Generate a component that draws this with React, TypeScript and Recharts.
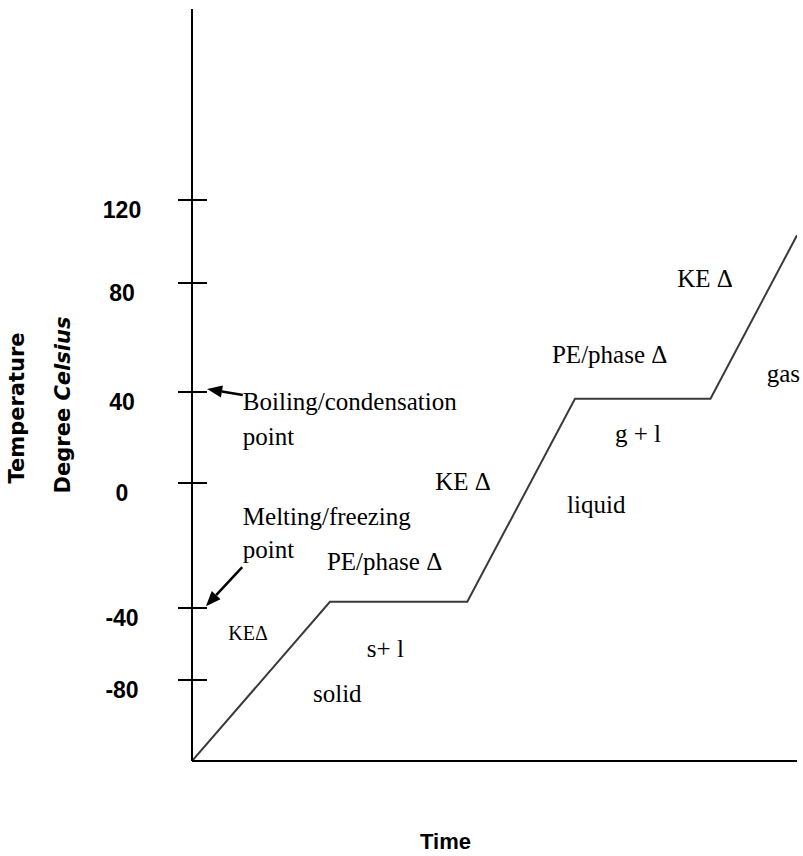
import React from 'react';
import { LineChart, Line, XAxis, YAxis, ReferenceDot, ReferenceLine, Label } from 'recharts';

// ---- data ----
const times = [0, 22.8, 45.5, 63.3, 85.7, 100];
const temps = [-120, -38, -38, 37, 37, 103];

const yTickValues = [120, 80, 40, 0, -40, -80];
const yTickLabels = ['120', '80', '40', '0', '-40', '-80'];

const noteTexts = [
  'Boiling/condensation', 'point', 'Melting/freezing', 'point', 'KE\u0394',
  'PE/phase \u0394', 's+ l', 'solid', 'KE \u0394', 'liquid', 'g + l',
  'PE/phase \u0394', 'KE \u0394', 'gas',
];
const noteTimes = [8.4, 8.4, 8.4, 8.4, 6.0, 22.3, 28.9, 20.0, 40.2, 62.0, 69.9, 59.5, 80.2, 95.0];
const noteTemps = [32.1, 16.7, -13.4, -24, -57.8, -27.8, -67.2, -90.9, -2.2, -9.6, 18.0, 50.6, 78.5, 43.7];

const arrowFromTimes = [8.4, 8.3];
const arrowFromTemps = [38.7, -26.9];
const arrowToTimes = [2.5, 2.3];
const arrowToTemps = [41.1, -39.4];

const yTitle1 = 'Temperature';
const yTitle2a = 'Degree ';
const yTitle2b = 'Celsius';
const xTitle = 'Time';

// ---- axis scale config (hand-drawn, unevenly spaced temperature axis) ----
const yScaleKnots = [-120, -80, -40, 0, 40, 80, 120, 160];
const yScaleGaps = [81, 72, 125, 91, 109, 83, 191];

function makePiecewiseScale(knots: number[], gaps: number[]): any {
  let dom: number[] = [knots[0], knots[knots.length - 1]];
  let ran: number[] = [0, 1];
  const cum: number[] = [0];
  for (let i = 0; i < gaps.length; i++) cum.push(cum[i] + gaps[i]);
  const total = cum[cum.length - 1];
  const frac = (v: number) => {
    const n = knots.length;
    if (v <= knots[0]) return ((v - knots[0]) / (knots[1] - knots[0])) * gaps[0] / total;
    for (let i = 1; i < n; i++) {
      if (v <= knots[i] || i === n - 1) {
        return (cum[i - 1] + ((v - knots[i - 1]) / (knots[i] - knots[i - 1])) * gaps[i - 1]) / total;
      }
    }
    return 1;
  };
  const scale: any = (v: number) => ran[0] + frac(v) * (ran[1] - ran[0]);
  scale.domain = (d?: number[]) => {
    if (d === undefined) return dom.slice();
    dom = d.slice();
    return scale;
  };
  scale.range = (r?: number[]) => {
    if (r === undefined) return ran.slice();
    ran = r.slice();
    return scale;
  };
  scale.copy = () => {
    const s = makePiecewiseScale(knots, gaps);
    s.domain(dom);
    s.range(ran);
    return s;
  };
  scale.ticks = () => knots.slice();
  scale.invert = (px: number) => {
    const f = (px - ran[0]) / (ran[1] - ran[0]) * total;
    for (let i = 1; i < cum.length; i++) {
      if (f <= cum[i] || i === cum.length - 1) {
        return knots[i - 1] + ((f - cum[i - 1]) / gaps[i - 1]) * (knots[i] - knots[i - 1]);
      }
    }
    return knots[knots.length - 1];
  };
  return scale;
}

const yScale = makePiecewiseScale(yScaleKnots, yScaleGaps);

const data = times.map((t, i) => ({ time: t, temp: temps[i] }));

const bitmapFont = "'Liberation Sans', Arial, sans-serif";
const serifFont = "'Liberation Serif', 'Times New Roman', serif";

const YTick = (props: any) => {
  const { x, y, payload } = props;
  const idx = yTickValues.indexOf(payload.value);
  return (
    <g>
      <line x1={x - 14} x2={x + 15} y1={y} y2={y} stroke="#000" strokeWidth={2} />
      <text
        x={x - 70}
        y={y + 18}
        textAnchor="middle"
        fontFamily={bitmapFont}
        fontWeight="bold"
        fontSize={23}
        fill="#000"
      >
        {idx >= 0 ? yTickLabels[idx] : ''}
      </text>
    </g>
  );
};

const YTitle = (props: any) => {
  const vb = props.viewBox || { x: 0, y: 9, width: 192, height: 752 };
  const cy = vb.y + vb.height / 2;
  return (
    <g fontFamily="'DejaVu Sans', sans-serif" fontWeight="bold" fontSize={21} fill="#000">
      <text
        transform={`translate(${vb.x + 17}, ${cy + 23}) rotate(-90)`}
        textAnchor="middle"
        dominantBaseline="central"
      >
        {yTitle1}
      </text>
      <text
        transform={`translate(${vb.x + 63}, ${cy + 20}) rotate(-90)`}
        textAnchor="middle"
        dominantBaseline="central"
      >
        {yTitle2a}
        <tspan fontStyle="italic">{yTitle2b}</tspan>
      </text>
    </g>
  );
};

const XTitle = (props: any) => {
  const vb = props.viewBox || { x: 192, y: 761, width: 605, height: 95 };
  return (
    <text
      x={vb.x + vb.width / 2 - 49}
      y={vb.y + 88}
      textAnchor="middle"
      fontFamily={bitmapFont}
      fontWeight="bold"
      fontSize={22}
      fill="#000"
    >
      {xTitle}
    </text>
  );
};

const makeNoteShape = (text: string, size: number) => (p: any) => (
  <text
    x={p.cx}
    y={p.cy}
    textAnchor="start"
    fontFamily={serifFont}
    fontSize={size}
    fill="#000"
  >
    {text}
  </text>
);

const ArrowShape = (p: any) => {
  const { x1, y1, x2, y2 } = p;
  const dx = x2 - x1;
  const dy = y2 - y1;
  const len = Math.sqrt(dx * dx + dy * dy) || 1;
  const ux = dx / len;
  const uy = dy / len;
  const headLen = 15;
  const headW = 6;
  const bx = x2 - ux * headLen;
  const by = y2 - uy * headLen;
  const px = -uy;
  const py = ux;
  return (
    <g>
      <line x1={x1} y1={y1} x2={bx} y2={by} stroke="#000" strokeWidth={2.5} />
      <polygon
        points={`${x2},${y2} ${bx + px * headW},${by + py * headW} ${bx - px * headW},${by - py * headW}`}
        fill="#000"
      />
    </g>
  );
};

export default function App() {
  return (
    <div style={{ position: 'absolute', left: 0, top: 0, width: 803, height: 856, background: '#fff' }}>
      <LineChart
        width={803}
        height={856}
        data={data}
        margin={{ top: 9, right: 6, bottom: 0, left: 0 }}
      >
        <XAxis
          dataKey="time"
          type="number"
          domain={[0, 100]}
          allowDataOverflow
          height={95}
          tick={false}
          tickLine={false}
          axisLine={{ stroke: '#000', strokeWidth: 2 }}
          label={<Label content={<XTitle />} />}
        />
        <YAxis
          dataKey="temp"
          type="number"
          domain={[-120, 160]}
          allowDataOverflow
          scale={yScale}
          ticks={yTickValues}
          interval={0}
          width={192}
          tickSize={0}
          tickMargin={0}
          tickLine={false}
          tick={<YTick />}
          axisLine={{ stroke: '#000', strokeWidth: 2 }}
          label={<Label content={<YTitle />} />}
        />
        <Line
          dataKey="temp"
          type="linear"
          stroke="#3a3a3a"
          strokeWidth={2}
          dot={false}
          activeDot={false}
          isAnimationActive={false}
        />
        {noteTexts.map((t, i) => (
          <ReferenceDot
            key={'n' + i}
            x={noteTimes[i]}
            y={noteTemps[i]}
            r={0}
            ifOverflow="visible"
            shape={makeNoteShape(t, t === 'KE\u0394' ? 20 : 25)}
          />
        ))}
        {arrowFromTimes.map((t, i) => (
          <ReferenceLine
            key={'a' + i}
            segment={[
              { x: t, y: arrowFromTemps[i] },
              { x: arrowToTimes[i], y: arrowToTemps[i] },
            ]}
            ifOverflow="visible"
            shape={(p: any) => <ArrowShape {...p} />}
          />
        ))}
      </LineChart>
    </div>
  );
}
